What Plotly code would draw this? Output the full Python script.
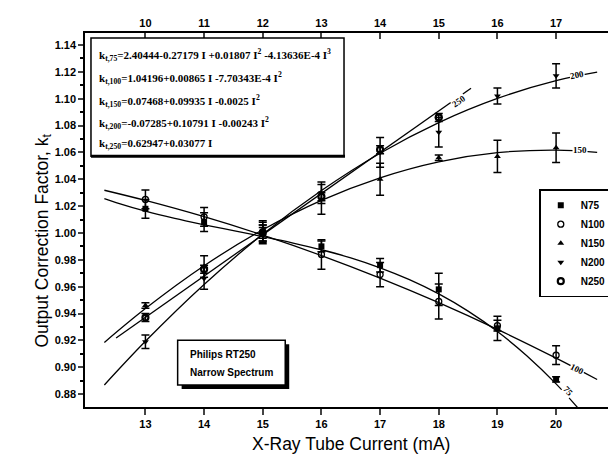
import plotly.graph_objects as go

# ---------------- data ----------------
current = [13, 14, 15, 16, 17, 18, 19, 20]
current_250 = [13, 14, 15, 16, 17, 18]

n75 = [1.018, 1.008, 1.000, 0.990, 0.976, 0.958, 0.929, 0.891]
n75_err = [0.007, 0.007, 0.006, 0.004, 0.005, 0.012, 0.009, 0.002]
n100 = [1.025, 1.012, 1.001, 0.984, 0.969, 0.949, 0.931, 0.909]
n100_err = [0.007, 0.007, 0.008, 0.011, 0.009, 0.013, 0.004, 0.007]
n150 = [0.946, 0.975, 1.000, 1.025, 1.040, 1.056, 1.057, 1.0635]
n150_err = [0.002, 0.008, 0.006, 0.011, 0.012, 0.002, 0.012, 0.011]
n200 = [0.919, 0.966, 1.000, 1.030, 1.060, 1.075, 1.102, 1.117]
n200_err = [0.005, 0.008, 0.008, 0.008, 0.011, 0.011, 0.006, 0.009]
n250 = [0.937, 0.973, 1.000, 1.027, 1.062, 1.086]
n250_err = [0.003, 0.003, 0.004, 0.003, 0.003, 0.003]

# fitted curves
fit75_i = [12.3, 12.5, 13, 13.5, 14, 14.5, 15, 15.5, 16, 16.5, 17, 17.5, 18, 18.5, 19, 19.5, 20, 20.4]
fit75_k = [1.0255, 1.0226, 1.0162, 1.0108, 1.0061, 1.0017, 0.9973, 0.9927, 0.9875, 0.9814,
           0.9740, 0.9652, 0.9546, 0.9418, 0.9266, 0.9086, 0.8876, 0.8683]
fit_i = [12.3, 13, 14, 15, 16, 17, 18, 19, 20, 20.7]
fit100_k = [1.0318, 1.0242, 1.0121, 0.9984, 0.9832, 0.9664, 0.9481, 0.9282, 0.9068, 0.8909]
fit150_k = [0.9185, 0.9437, 0.9756, 1.0024, 1.0243, 1.0411, 1.0530, 1.0598, 1.0617, 1.0600]
fit200_k = [0.8868, 0.9193, 0.9616, 0.9991, 1.0316, 1.0594, 1.0822, 1.1002, 1.1134, 1.1197]
fit250_i = [12.5, 18.55]
fit250_k = [0.9218, 1.1078]

series_names = ["N75", "N100", "N150", "N200", "N250"]
equations = [
    "k<sub>t,75</sub>=2.40444-0.27179 I +0.01807 I<sup>2</sup> -4.13636E-4 I<sup>3</sup>",
    "k<sub>t,100</sub>=1.04196+0.00865 I -7.70343E-4 I<sup>2</sup>",
    "k<sub>t,150</sub>=0.07468+0.09935 I -0.0025 I<sup>2</sup>",
    "k<sub>t,200</sub>=-0.07285+0.10791 I -0.00243 I<sup>2</sup>",
    "k<sub>t,250</sub>=0.62947+0.03077 I",
]
bottom_ticks = [13, 14, 15, 16, 17, 18, 19, 20]
top_ticks = [10, 11, 12, 13, 14, 15, 16, 17]

# ---------------- figure ----------------
W, H = 616, 462
L, R, T, B = 77, 9, 23, 63
PW, PH = W - L - R, H - T - B


def px(x):
    return (x - L) / PW


def py(y):
    return (H - B - y) / PH


fig = go.Figure()

line_style = dict(color="black", width=1.3)
for xs, ys, shape in [(fit75_i, fit75_k, "spline"), (fit_i, fit100_k, "spline"),
                      (fit_i, fit150_k, "spline"), (fit_i, fit200_k, "spline"),
                      (fit250_i, fit250_k, "linear")]:
    fig.add_trace(go.Scatter(x=xs, y=ys, mode="lines", line=dict(shape=shape, **line_style),
                             showlegend=False, hoverinfo="skip"))

symbols = ["square", "circle-open", "triangle-up", "triangle-down", "circle-open"]
marker_lw = [0, 1.3, 0, 0, 2.2]
data = [(current, n75, n75_err), (current, n100, n100_err), (current, n150, n150_err),
        (current, n200, n200_err), (current_250, n250, n250_err)]
for name, sym, lw, (xs, ys, es) in zip(series_names, symbols, marker_lw, data):
    fig.add_trace(go.Scatter(
        x=xs, y=ys, mode="markers", name=name,
        marker=dict(symbol=sym, size=6, color="black", line=dict(color="black", width=lw)),
        error_y=dict(type="data", array=es, visible=True, color="black", thickness=1.5, width=4),
    ))

# invisible trace to anchor the top axis
fig.add_trace(go.Scatter(x=[10, 17], y=[1, 1], xaxis="x2", mode="markers",
                         marker=dict(opacity=0), showlegend=False, hoverinfo="skip"))

tickfont = dict(family="Liberation Sans", size=11, color="black", weight="bold")
fig.update_layout(
    width=W, height=H,
    margin=dict(l=L, r=R, t=T, b=B),
    paper_bgcolor="white", plot_bgcolor="white",
    showlegend=True,
    legend=dict(x=px(533), y=py(180), xanchor="left", yanchor="top",
                bordercolor="black", borderwidth=1.5, bgcolor="white",
                font=dict(family="Liberation Sans", size=10, color="black", weight="bold"),
                itemwidth=30, tracegroupgap=0),
    xaxis=dict(range=[11.97, 20.97], tickvals=bottom_ticks, ticks="outside", ticklen=6,
               tickwidth=1.5, showline=True, linecolor="black", linewidth=1.5,
               showgrid=False, zeroline=False, tickfont=tickfont),
    xaxis2=dict(range=[8.97, 17.97], tickvals=top_ticks, overlaying="x", side="top",
                ticks="inside", ticklen=6, tickwidth=1.5, showline=True, linecolor="black",
                linewidth=1.5, showgrid=False, zeroline=False, tickfont=tickfont),
    yaxis=dict(range=[0.8704, 1.1489], tick0=0.88, dtick=0.02, tickformat=".2f",
               ticks="outside", ticklen=5, tickwidth=1.5, showline=True, mirror=True,
               linecolor="black", linewidth=1.5, showgrid=False, zeroline=False,
               tickfont=tickfont,
               minor=dict(tick0=0.88, dtick=0.01, ticks="outside", ticklen=3,
                          tickcolor="black", showgrid=False)),
)

# axis titles
fig.add_annotation(text="X-Ray Tube Current (mA)", xref="paper", yref="paper",
                   x=px(344), y=py(448), showarrow=False,
                   font=dict(family="Liberation Sans", size=17.5, color="black"))
fig.add_annotation(text="Output Correction Factor, k<sub>t</sub>", xref="paper", yref="paper",
                   x=px(22), y=py(232), showarrow=False, textangle=-90,
                   font=dict(family="Liberation Sans", size=17.5, color="black"))

# equation box
fig.add_shape(type="rect", xref="paper", yref="paper", x0=px(83), x1=px(337), y0=py(147),
              y1=py(28), line=dict(color="black", width=1.5), fillcolor="white")
fig.add_shape(type="line", xref="paper", yref="paper", x0=px(83), x1=px(338), y0=py(147),
              y1=py(147), line=dict(color="black", width=3))
eq_y = [45, 68, 91, 113, 135]
for txt, yy in zip(equations, eq_y):
    fig.add_annotation(text=txt, xref="paper", yref="paper", x=px(89), y=py(yy),
                       xanchor="left", yanchor="middle", showarrow=False,
                       font=dict(family="Liberation Serif", size=11, color="black", weight="bold"))

# Philips box with shadow
fig.add_shape(type="rect", xref="paper", yref="paper", x0=px(174), x1=px(282), y0=py(381),
              y1=py(336), line=dict(color="black", width=0), fillcolor="black")
fig.add_shape(type="rect", xref="paper", yref="paper", x0=px(170), x1=px(278), y0=py(377),
              y1=py(332), line=dict(color="black", width=1.5), fillcolor="white")
for txt, yy in [("Philips RT250", 346), ("Narrow Spectrum", 364)]:
    fig.add_annotation(text=txt, xref="paper", yref="paper", x=px(180), y=py(yy),
                       xanchor="left", yanchor="middle", showarrow=False,
                       font=dict(family="Liberation Sans", size=10, color="black", weight="bold"))

# curve labels
curve_labels = [("250", 18.35, 1.098, -35), ("200", 20.35, 1.118, -11), ("150", 20.4, 1.0615, 0),
                ("100", 20.35, 0.8985, 27), ("75", 20.2, 0.882, 48)]
for txt, xx, yy, ang in curve_labels:
    fig.add_annotation(text=txt, x=xx, y=yy, xref="x", yref="y", showarrow=False,
                       textangle=ang, bgcolor="white", borderpad=0,
                       font=dict(family="Liberation Serif", size=9, color="black", weight="bold"))

fig.write_html("out.html")
